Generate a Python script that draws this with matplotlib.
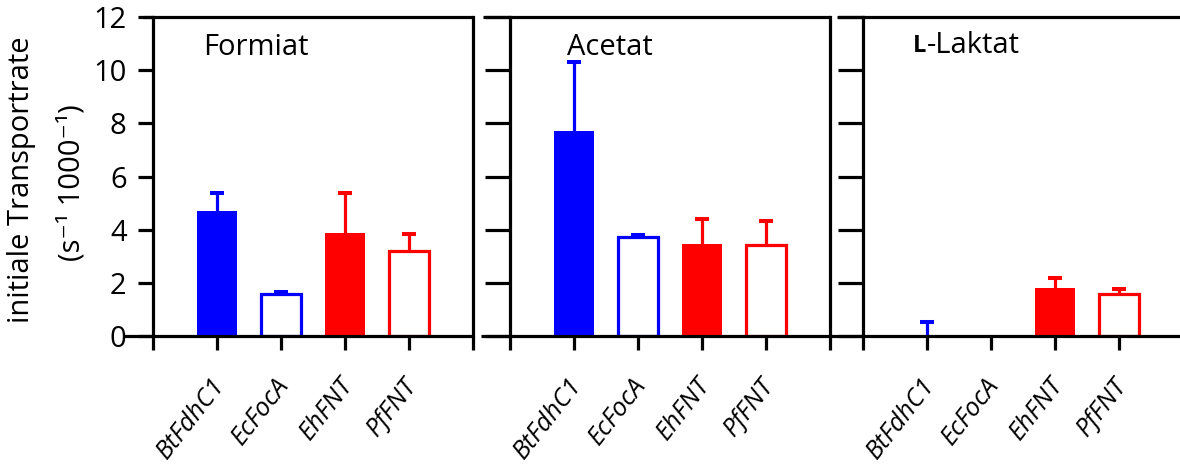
import matplotlib
matplotlib.use('Agg')
import matplotlib.pyplot as plt
from matplotlib.transforms import ScaledTranslation

# ---- data ----
transporters = ["BtFdhC1", "EcFocA", "EhFNT", "PfFNT"]
substrates = ["Formiat", "Acetat", "Laktat"]
formiat = [4.7, 1.58, 3.87, 3.2]
formiat_err = [0.67, 0.07, 1.5, 0.63]
acetat = [7.7, 3.72, 3.45, 3.42]
acetat_err = [2.6, 0.08, 0.95, 0.91]
laktat = [0.0, 0.0, 1.8, 1.58]
laktat_err = [0.53, 0.0, 0.38, 0.19]
yticks = [0, 2, 4, 6, 8, 10, 12]

BLUE = '#0000ff'
RED = '#ff0000'
colors = [BLUE, BLUE, RED, RED]
filled = [True, False, True, False]

plt.rcParams['font.family'] = ['Open Sans', 'DejaVu Sans']

W, H = 1180, 465
fig = plt.figure(figsize=(W / 100, H / 100), dpi=100)


def rect(x0, x1, ytop, ybot):
    return [x0 / W, 1 - ybot / H, (x1 - x0) / W, (ybot - ytop) / H]


LW = 2.3
panel_left = [153, 510, 863]
values = [formiat, acetat, laktat]
errors = [formiat_err, acetat_err, laktat_err]
top_start = [-0.03, -0.085, -0.08]
bot_start = [-0.095, -0.09, -0.1]

axes = []
for p in range(3):
    ax = fig.add_axes(rect(panel_left[p], panel_left[p] + 320, 17, 336))
    axes.append(ax)
    ax.set_xlim(0, 5)
    ax.set_ylim(0, 12)
    for i, (v, e) in enumerate(zip(values[p], errors[p])):
        x = i + 1
        c = colors[i]
        if v > 0:
            if filled[i]:
                ax.bar(x, v, 0.64, color=c, edgecolor=c, linewidth=0, zorder=2)
            else:
                ax.bar(x, v, 0.61, facecolor='white', edgecolor=c,
                       linewidth=LW, zorder=2)
        if e > 0:
            ax.plot([x, x], [v, v + e], color=c, lw=LW, zorder=1,
                    solid_capstyle='butt')
            ax.plot([x], [v + e], marker='_', ms=10, mew=LW + 0.6, color=c,
                    zorder=1)
    for s in ['top', 'bottom']:
        ax.spines[s].set_visible(False)
    ax.spines['left'].set_linewidth(LW)
    ax.spines['right'].set_linewidth(LW)
    ax.spines['left'].set_zorder(5)
    ax.spines['right'].set_zorder(5)
    ax.plot([top_start[p], 1.02 if p == 2 else 1], [1, 1], transform=ax.transAxes,
            clip_on=False, color='black', lw=LW, solid_capstyle='butt', zorder=5)
    ax.plot([bot_start[p], 1.02 if p == 2 else 1], [0, 0], transform=ax.transAxes,
            clip_on=False, color='black', lw=LW, solid_capstyle='butt', zorder=5)
    ax.set_yticks(yticks)
    ax.set_xticks(range(6))
    ax.set_xticklabels([])
    ax.tick_params(axis='x', direction='out', length=10, width=LW)
    # rotated category labels
    tr = ax.get_xaxis_transform() + ScaledTranslation(0.09, -0.49,
                                                      fig.dpi_scale_trans)
    for i, name in enumerate(transporters):
        ax.text(i + 1, 0, name, transform=tr, rotation=52, ha='right',
                va='baseline', rotation_mode='anchor', fontsize=18.5,
                style='italic', clip_on=False)
    if p == 0:
        ax.tick_params(axis='y', direction='out', length=11, width=LW,
                       labelsize=21, pad=8)
        ax.set_yticklabels([str(t) for t in yticks])
    else:
        ax.tick_params(axis='y', direction='out', length=18, width=LW,
                       labelleft=False)

# panel titles
axes[0].text(0.156, 0.905, substrates[0], transform=axes[0].transAxes,
             fontsize=21, va='center', ha='left')
axes[1].text(0.178, 0.905, substrates[1], transform=axes[1].transAxes,
             fontsize=21, va='center', ha='left')
lt = axes[2].text(0.156, 0.87, 'L', transform=axes[2].transAxes,
                  fontsize=17, fontweight='bold', va='bottom', ha='left')
axes[2].annotate('-' + substrates[2], xy=(1, 0), xycoords=lt, fontsize=21,
                 va='bottom', ha='left', xytext=(0.5, -1.0),
                 textcoords='offset points')

# y label (two lines)
fig.text(22 / W, 1 - 180 / H, 'initiale Transportrate', rotation=90,
         fontsize=21, ha='center', va='center')
fig.text(72 / W, 1 - 183 / H, '(s\u207b\u00b9 1000\u207b\u00b9)', rotation=90,
         fontsize=21, ha='center', va='center')

fig.savefig('out.png', dpi=100)
